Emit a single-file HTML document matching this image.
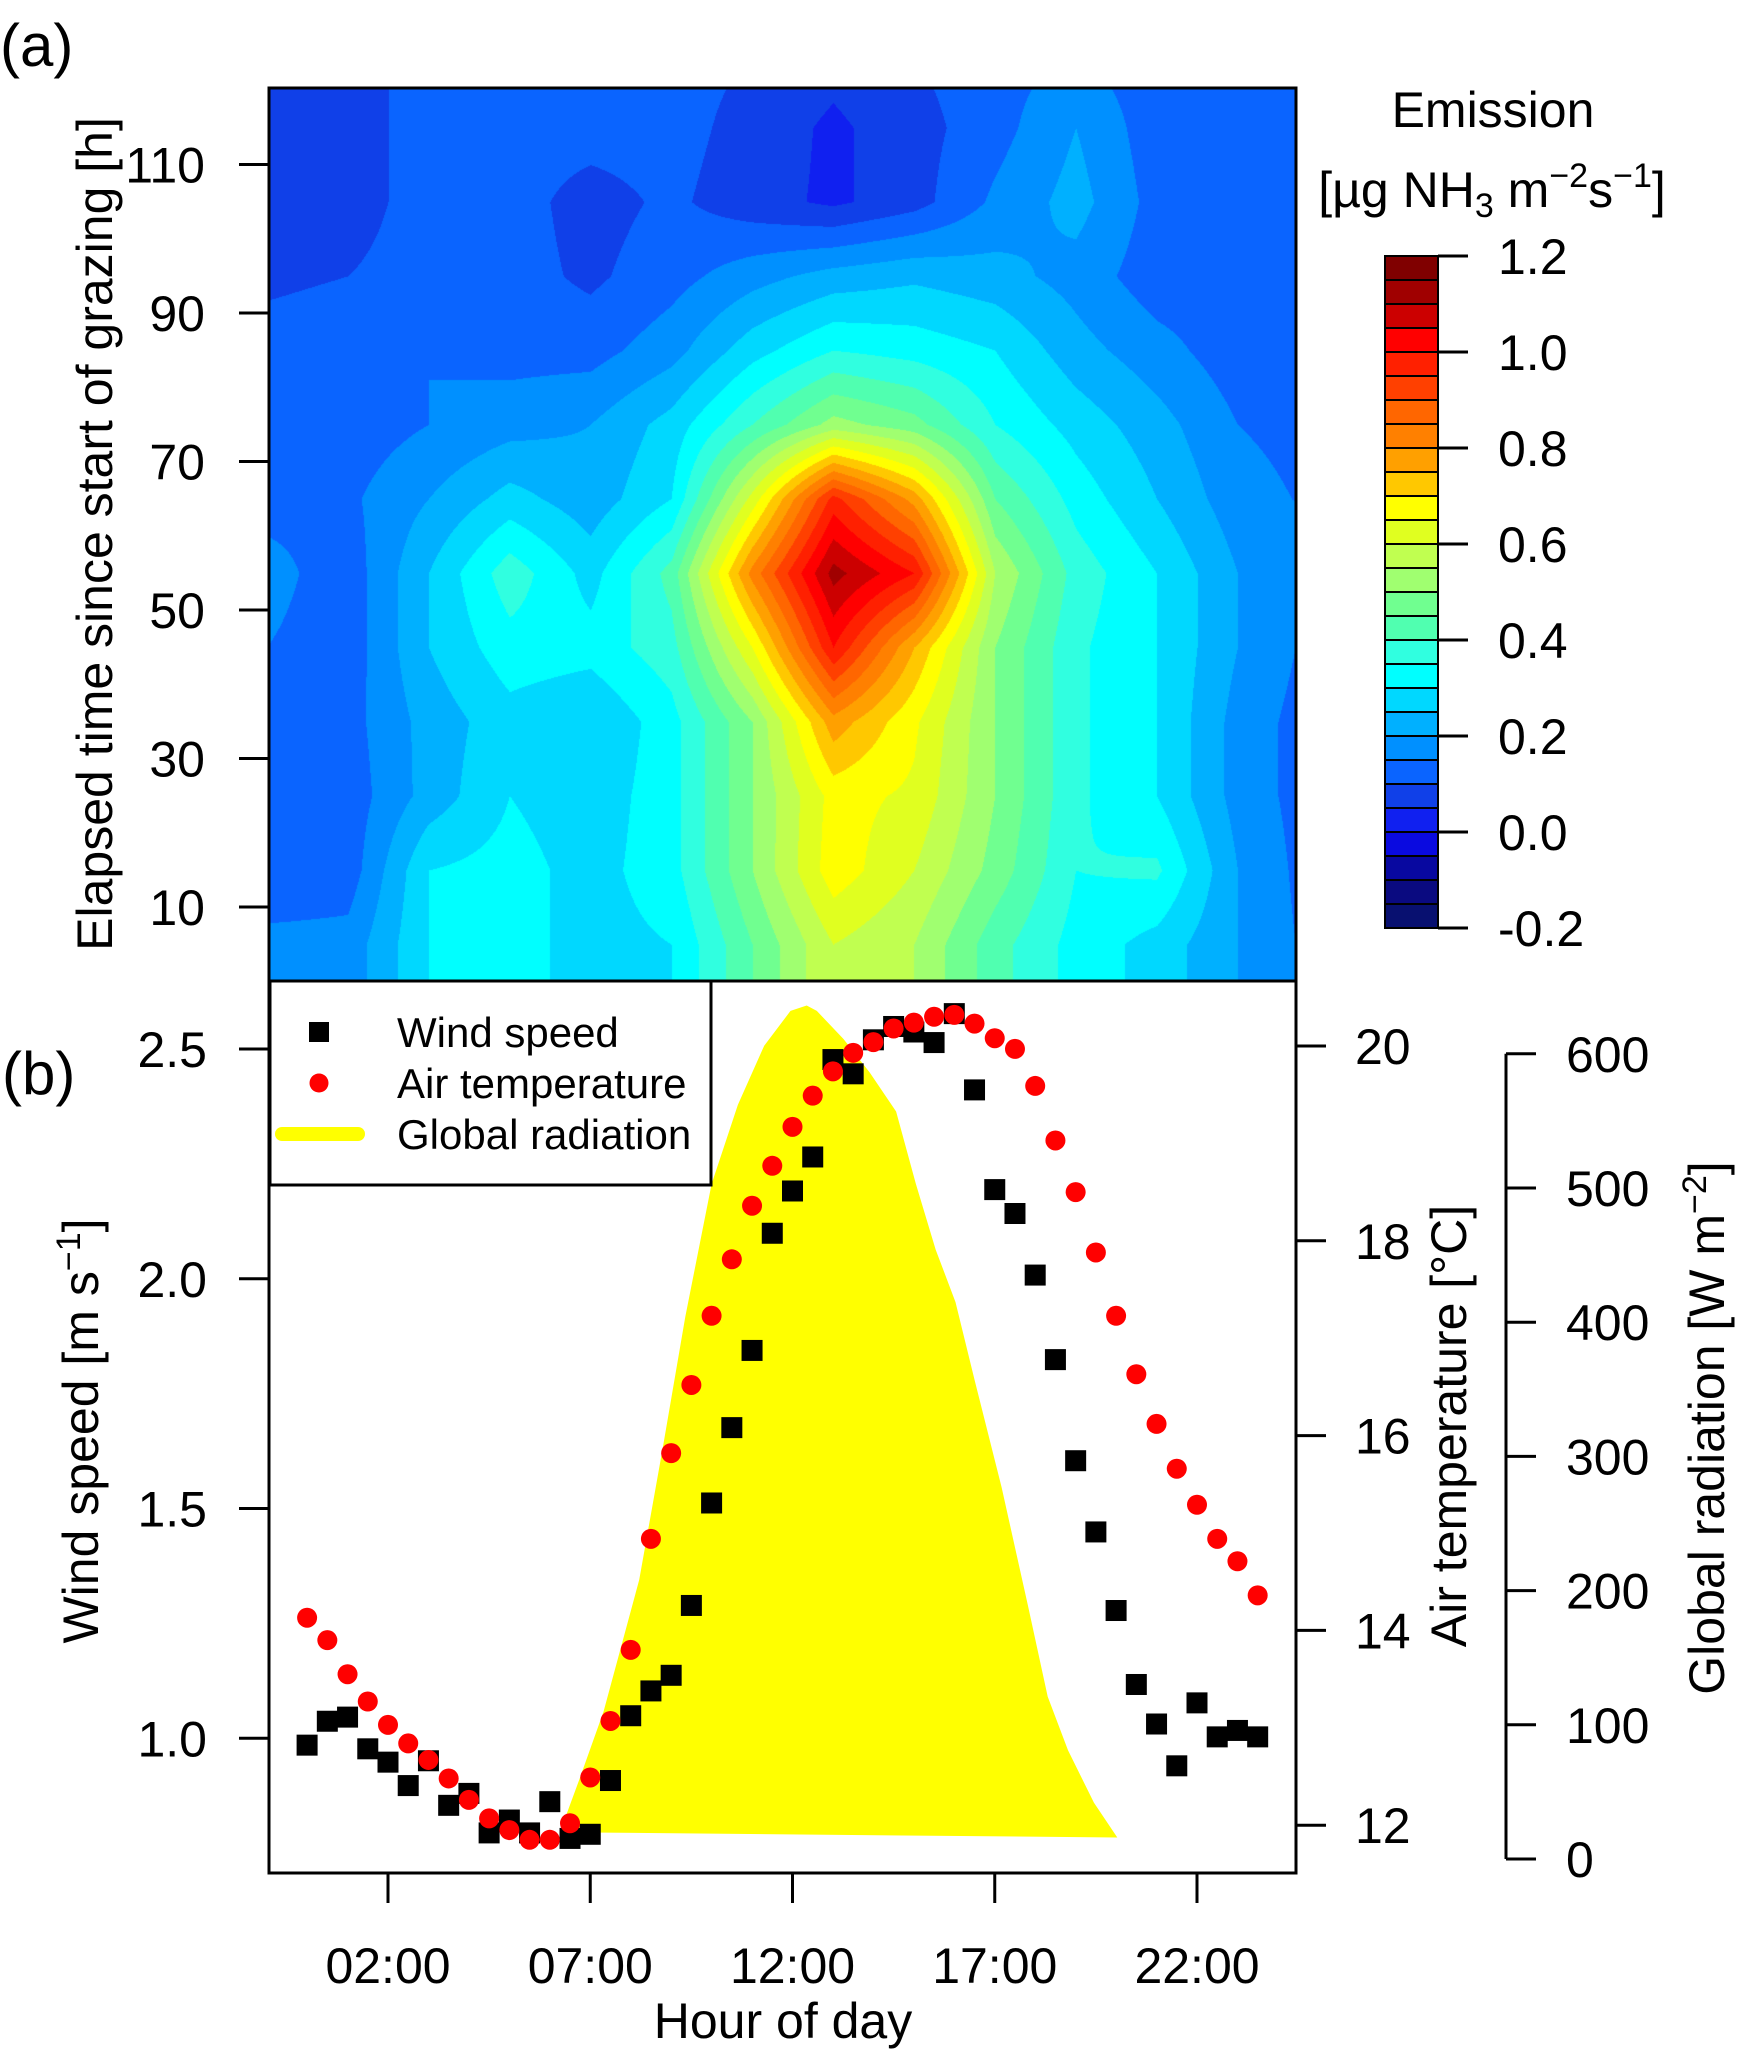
<!DOCTYPE html>
<html><head><meta charset="utf-8">
<style>
html,body{margin:0;padding:0;background:#fff;}
#wrap{position:relative;width:1744px;height:2064px;overflow:hidden;}
#heat{position:absolute;left:269px;top:88px;}
svg{position:absolute;left:0;top:0;}
text{font-family:"Liberation Sans",Arial,sans-serif;fill:#000;}
</style></head>
<body>
<div id="wrap">
<canvas id="heat" width="1027" height="893"></canvas>
<svg id="svg" width="1744" height="2064" xmlns="http://www.w3.org/2000/svg"></svg>
</div>
<script>
// ---------- Data ----------
const gridHours = [-1,1,3,5,7,9,11,13,15,17,19,21,23,25];
const gridElapsed = [125,115,105,95,85,75,65,55,45,35,25,15,5,-5];
const emission = [
 [.08,.08,.12,.12,.12,.12,.10,.07,.10,.13,.15,.12,.12,.12],
 [.08,.08,.12,.12,.12,.12,.08,.04,.08,.13,.20,.12,.12,.12],
 [.08,.08,.12,.12,.08,.11,.07,.04,.08,.16,.22,.13,.11,.11],
 [.09,.10,.12,.12,.09,.13,.18,.22,.24,.22,.18,.12,.12,.12],
 [.12,.13,.15,.13,.13,.18,.28,.35,.33,.30,.22,.17,.12,.12],
 [.12,.12,.15,.18,.20,.27,.40,.52,.47,.35,.28,.22,.15,.13],
 [.13,.14,.20,.27,.22,.30,.62,.97,.78,.45,.33,.25,.17,.14],
 [.17,.12,.25,.38,.28,.42,.82,1.12,1.00,.55,.38,.30,.20,.18],
 [.15,.12,.25,.33,.32,.38,.65,1.00,.75,.50,.36,.30,.20,.13],
 [.12,.13,.22,.28,.25,.33,.50,.78,.66,.50,.36,.30,.18,.12],
 [.11,.12,.22,.30,.27,.33,.50,.67,.64,.50,.36,.30,.18,.12],
 [.10,.12,.30,.32,.28,.33,.50,.68,.60,.48,.35,.36,.20,.12],
 [.17,.17,.30,.32,.28,.30,.45,.60,.55,.42,.33,.28,.20,.13],
 [.17,.17,.30,.32,.28,.30,.45,.60,.55,.42,.33,.28,.20,.13]
];
const levelColors = ["#081070","#0a0a80","#0808a0","#0a0ae0","#1020f0","#1040e8","#0a64ff","#0090ff","#00b0ff","#00d8ff","#00ffff","#30ffe0","#50ffb0","#70ff90","#a0ff70","#c0ff50","#e0ff20","#ffff00","#ffc800","#ffa000","#ff8000","#ff6600","#ff4000","#ff2000","#ff0000","#cc0000","#a00000","#800000"];
const colorTicks = [-0.2,0.0,0.2,0.4,0.6,0.8,1.0,1.2];
const elapsedTicks = [10,30,50,70,90,110];

const obsHours = [0,0.5,1,1.5,2,2.5,3,3.5,4,4.5,5,5.5,6,6.5,7,7.5,8,8.5,9,9.5,10,10.5,11,11.5,12,12.5,13,13.5,14,14.5,15,15.5,16,16.5,17,17.5,18,18.5,19,19.5,20,20.5,21,21.5,22,22.5,23,23.5];
const windSpeed = [0.985,1.037,1.046,0.977,0.948,0.897,0.951,0.854,0.880,0.794,0.822,0.794,0.862,0.782,0.791,0.908,1.049,1.103,1.137,1.289,1.512,1.676,1.844,2.099,2.191,2.265,2.477,2.446,2.520,2.549,2.537,2.514,2.577,2.411,2.194,2.142,2.008,1.824,1.604,1.449,1.278,1.117,1.031,0.940,1.077,1.003,1.017,1.003];
const airTemp = [14.13,13.90,13.55,13.27,13.03,12.84,12.67,12.48,12.26,12.07,11.95,11.85,11.85,12.02,12.49,13.07,13.80,14.94,15.82,16.52,17.23,17.81,18.36,18.77,19.17,19.49,19.74,19.93,20.04,20.18,20.24,20.30,20.32,20.23,20.08,19.97,19.59,19.03,18.50,17.88,17.23,16.63,16.12,15.66,15.29,14.94,14.71,14.36];
const radHours = [6.25,6.74,7.33,8.21,8.79,9.35,10.0,10.65,11.3,11.95,12.35,12.6,13.26,13.91,14.56,15.05,15.54,16.03,16.51,17.17,17.82,18.31,18.81,19.45,20.03];
const globalRad = [20,60,110,208,306,404,503,562,606,632,636,632,611,586,557,503,454,415,356,277,189,121,81,42,16];
const windTicks = [1.0,1.5,2.0,2.5];
const tempTicks = [12,14,16,18,20];
const radTicks = [0,100,200,300,400,500,600];
const hourTicks = [2,7,12,17,22];
const hourLabels = ["02:00","07:00","12:00","17:00","22:00"];

// ---------- Scales ----------
const X = h => 307.1 + 40.45*h;
const YE = e => 907 - (e-10)*7.425;
const YW = v => 1049 - (v-2.5)*459.5;
const YT = t => 1046 + (20-t)*97.4;
const YR = r => 1859 - r*1.342;
const YC = v => 928 - (v+0.2)*480;   // colorbar

// ---------- Heatmap ----------
(function(){
 const cv=document.getElementById('heat'), ctx=cv.getContext('2d');
 const W=cv.width,H=cv.height, img=ctx.createImageData(W,H);
 const rgb=levelColors.map(c=>[parseInt(c.substr(1,2),16),parseInt(c.substr(3,2),16),parseInt(c.substr(5,2),16)]);
 const h0=gridHours[0], dh=gridHours[1]-gridHours[0], e0=gridElapsed[0], de=gridElapsed[0]-gridElapsed[1];
 for(let py=0;py<H;py++){
  const e=10+(907-(py+88))/7.425;
  let r=(e0-e)/de; r=Math.max(0,Math.min(gridElapsed.length-1.0001,r));
  const ri=Math.floor(r), rf=r-ri;
  for(let px=0;px<W;px++){
   const h=((px+269)-307.1)/40.45;
   let c=(h-h0)/dh; c=Math.max(0,Math.min(gridHours.length-1.0001,c));
   const ci=Math.floor(c), cf=c-ci;
   const v=(emission[ri][ci]*(1-cf)+emission[ri][ci+1]*cf)*(1-rf)+(emission[ri+1][ci]*(1-cf)+emission[ri+1][ci+1]*cf)*rf;
   let k=Math.floor((v+0.2)/0.05); k=Math.max(0,Math.min(27,k));
   const o=(py*W+px)*4; img.data[o]=rgb[k][0];img.data[o+1]=rgb[k][1];img.data[o+2]=rgb[k][2];img.data[o+3]=255;
  }
 }
 ctx.putImageData(img,0,0);
})();

// ---------- SVG ----------
const svg=document.getElementById('svg'), NS='http://www.w3.org/2000/svg';
function mk(tag,attrs,parent){const el=document.createElementNS(NS,tag);for(const k in attrs)el.setAttribute(k,attrs[k]);(parent||svg).appendChild(el);return el;}
function txt(s,x,y,size,anchor,name,rot){const t=mk('text',{x:x,y:y,'font-size':size,'text-anchor':anchor||'start'});if(rot)t.setAttribute('transform','rotate(-90 '+x+' '+y+')');t.textContent=s;
 
 
 return t;}
function line(x1,y1,x2,y2,name,w){const l=mk('line',{x1:x1,y1:y1,x2:x2,y2:y2,stroke:'#000','stroke-width':w||3});
 
 
 return l;}

const FS=50;
// panel labels
txt('(a)',0,66,60,'start','panel-a-label');
txt('(b)',2,1094,60,'start','panel-b-label');

// panel a frame & ticks
const fa=mk('rect',{x:269,y:88,width:1027,height:893,fill:'none',stroke:'#000','stroke-width':3});


elapsedTicks.forEach(v=>{line(239,YE(v),269,YE(v),'elapsed-tick');txt(String(v),205,YE(v)+18,FS,'end','elapsed-tick-label');});
txt('Elapsed time since start of grazing [h]',112,534,FS,'middle','elapsed-axis-title',true);

// colorbar
levelColors.forEach((c,i)=>{const r=mk('rect',{x:1385,y:YC(-0.2+0.05*(i+1)),width:53,height:24,fill:c,stroke:'#000','stroke-width':2});
 
 });
colorTicks.forEach(v=>{line(1438,YC(v),1468,YC(v),'colorbar-tick');txt(v.toFixed(1),1498,YC(v)+18,FS,'start','colorbar-tick-label');});
txt('Emission',1493,127,FS,'middle','colorbar-title');
const u=txt('',1492,207,FS,'middle','colorbar-units');
u.innerHTML='[µg NH<tspan font-size="34" dy="10">3</tspan><tspan dy="-10"> m</tspan><tspan font-size="34" dy="-20">−2</tspan><tspan dy="20">s</tspan><tspan font-size="34" dy="-20">−1</tspan><tspan dy="20">]</tspan>';

// panel b frame
const fb=mk('rect',{x:269,y:981,width:1027,height:892,fill:'none',stroke:'#000','stroke-width':3});



// radiation polygon
const pts=radHours.map((h,i)=>X(h).toFixed(1)+','+YR(globalRad[i]).toFixed(1)).join(' ');
const poly=mk('polygon',{points:pts,fill:'#ffff00'});



// wind squares
obsHours.forEach((h,i)=>{const s=mk('rect',{x:X(h)-10.5,y:YW(windSpeed[i])-10.5,width:21,height:21,fill:'#000'});
 
 });
// temperature circles
obsHours.forEach((h,i)=>{const c=mk('circle',{cx:X(h),cy:YT(airTemp[i]),r:10,fill:'#ff0000'});
 
 });

// legend
const lg=mk('rect',{x:270,y:981,width:441,height:204,fill:'#fff',stroke:'#000','stroke-width':3});


const ls=mk('rect',{x:309,y:1022,width:20,height:20,fill:'#000'});


const lc=mk('circle',{cx:319,cy:1083,r:9.5,fill:'#ff0000'});


const ll=mk('line',{x1:282,y1:1134,x2:358,y2:1134,stroke:'#ffff00','stroke-width':14,'stroke-linecap':'round'});


txt('Wind speed',397,1047,42,'start','legend-wind-label');
txt('Air temperature',397,1098,42,'start','legend-temp-label');
txt('Global radiation',397,1149,42,'start','legend-radiation-label');

// wind axis
windTicks.forEach(v=>{line(239,YW(v),269,YW(v),'wind-tick');txt(v.toFixed(1),207,YW(v)+18,FS,'end','wind-tick-label');});
const wt=txt('',98,1431,FS,'middle','wind-axis-title',true);
wt.innerHTML='Wind speed [m s<tspan font-size="34" dy="-18">−1</tspan><tspan dy="18">]</tspan>';

// temperature axis
tempTicks.forEach(v=>{line(1296,YT(v),1326,YT(v),'temp-tick');txt(String(v),1355,YT(v)+18,FS,'start','temp-tick-label');});
txt('Air temperature [°C]',1466,1426,FS,'middle','temp-axis-title',true);

// radiation axis
line(1506,YR(0),1506,YR(600),'radiation-axis-line');
radTicks.forEach(v=>{line(1506,YR(v),1536,YR(v),'radiation-tick');txt(String(v),1566,YR(v)+18,FS,'start','radiation-tick-label');});
const rt=txt('',1724,1428,FS,'middle','radiation-axis-title',true);
rt.innerHTML='Global radiation [W m<tspan font-size="34" dy="-18">−2</tspan><tspan dy="18">]</tspan>';

// x axis
hourTicks.forEach((h,i)=>{line(X(h),1873,X(h),1903,'hour-tick');txt(hourLabels[i],X(h),1983,FS,'middle','hour-tick-label');});
txt('Hour of day',783,2038,FS,'middle','hour-axis-title');
</script>
</body></html>
